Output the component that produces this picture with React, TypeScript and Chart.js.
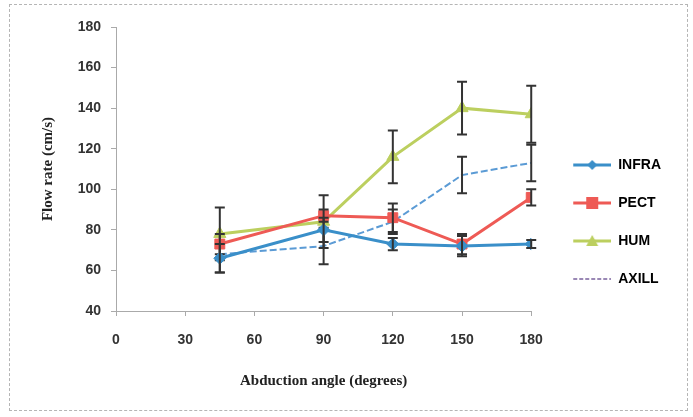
import React, { useEffect, useRef } from 'react';
import { Chart, registerables } from 'chart.js';

Chart.register(...registerables);

const angles = [45, 90, 120, 150, 180];
const seriesNames = ['INFRA', 'PECT', 'HUM', 'AXILL'];
const infra = [66, 80, 73, 72, 73];
const infraErr = [7, 6, 3, 5, 2];
const pect = [73, 87, 86, 73, 96];
const pectErr = [5, 3, 7, 5, 4];
const hum = [78, 84, 116, 140, 137];
const humErr = [13, 13, 13, 13, 14];
const axill = [68, 72, 84, 107, 113];
const axillErr = [9, 9, 6, 9, 9];
const xTickValues = [0, 30, 60, 90, 120, 150, 180];
const yTickValues = [40, 60, 80, 100, 120, 140, 160, 180];

const TICK_FONT = { family: "'Liberation Sans Narrow', 'Liberation Sans', Arial, sans-serif", size: 14, weight: 'bold' as const };
const TITLE_FONT = { family: "'Liberation Serif', 'Times New Roman', serif", size: 15, weight: 'bold' as const };

function makeIcon(color: string, marker: string, dash: number[] | null) {
  const c = document.createElement('canvas');
  c.width = 56;
  c.height = 16;
  const g = c.getContext('2d')!;
  g.strokeStyle = color;
  g.fillStyle = color;
  g.lineWidth = dash ? 2 : 3;
  if (dash) g.setLineDash(dash);
  g.beginPath();
  g.moveTo(18, 8);
  g.lineTo(56, 8);
  g.stroke();
  g.setLineDash([]);
  const cx = 37, cy = 8;
  g.beginPath();
  if (marker === 'diamond') {
    g.moveTo(cx, cy - 5); g.lineTo(cx + 5, cy); g.lineTo(cx, cy + 5); g.lineTo(cx - 5, cy); g.closePath(); g.fill();
  } else if (marker === 'square') {
    g.rect(cx - 6, cy - 6, 12, 12); g.fill();
  } else if (marker === 'triangle') {
    g.moveTo(cx, cy - 6); g.lineTo(cx + 6, cy + 5); g.lineTo(cx - 6, cy + 5); g.closePath(); g.fill();
  }
  return c;
}

const errorsByDataset = [infraErr, pectErr, humErr, axillErr];

const errorBarPlugin = {
  id: 'errorBars',
  afterDatasetDraw(chart: any, args: any) {
    const { ctx, scales } = chart;
    const x = scales.x, y = scales.y;
    const ds = chart.data.datasets[args.index];
    const errs = errorsByDataset[args.index];
    ctx.save();
    ctx.strokeStyle = '#333333';
    ctx.lineWidth = 2;
    ds.data.forEach((pt: any, j: number) => {
      const px = x.getPixelForValue(pt.x);
      const top = y.getPixelForValue(pt.y + errs[j]);
      const bot = y.getPixelForValue(pt.y - errs[j]);
      ctx.beginPath();
      ctx.moveTo(px, top); ctx.lineTo(px, bot);
      ctx.moveTo(px - 5, top); ctx.lineTo(px + 5, top);
      ctx.moveTo(px - 5, bot); ctx.lineTo(px + 5, bot);
      ctx.stroke();
    });
    ctx.restore();
  },
};

export default function App() {
  const ref = useRef<HTMLCanvasElement | null>(null);
  useEffect(() => {
    if (!ref.current) return;
    const colors = ['#3a8fc9', '#ee5a55', '#bccf5f', '#5b9bd5'];
    const legendColors = ['#3a8fc9', '#ee5a55', '#bccf5f', '#9a88b5'];
    const icons = [
      makeIcon(legendColors[0], 'diamond', null),
      makeIcon(legendColors[1], 'square', null),
      makeIcon(legendColors[2], 'triangle', null),
      makeIcon(legendColors[3], 'none', [4, 2]),
    ];
    const values = [infra, pect, hum, axill];
    const styles = ['rectRot', 'rect', 'triangle', 'circle'];
    const radii = [6, 7, 7, 0];
    const datasets = seriesNames.map((name, i) => ({
      label: name,
      data: angles.map((a, j) => ({ x: a, y: values[i][j] })),
      borderColor: colors[i],
      backgroundColor: colors[i],
      pointBackgroundColor: colors[i],
      pointBorderColor: colors[i],
      pointStyle: styles[i],
      pointRadius: radii[i],
      pointBorderWidth: 1,
      borderWidth: i === 3 ? 2 : 3,
      borderDash: i === 3 ? [7, 3] : [],
      tension: 0,
      fill: false,
    }));
    const chart = new Chart(ref.current, {
      type: 'line',
      data: { datasets },
      plugins: [errorBarPlugin],
      options: {
        animation: false,
        responsive: false,
        devicePixelRatio: 1,
        layout: { padding: { top: 27, right: 22, bottom: 0, left: 0 } },
        plugins: {
          tooltip: { enabled: false },
          legend: {
            position: 'right',
            align: 'center',
            labels: {
              usePointStyle: true,
              pointStyleWidth: 56,
              padding: 24,
              color: '#333333',
              font: { family: "'Liberation Sans', Arial, sans-serif", size: 14, weight: 'bold' },
              generateLabels: () =>
                seriesNames.map((n, i) => ({
                  text: n,
                  pointStyle: icons[i],
                  fillStyle: legendColors[i],
                  strokeStyle: legendColors[i],
                  lineWidth: 0,
                  hidden: false,
                  datasetIndex: i,
                })),
            },
          },
        },
        scales: {
          x: {
            type: 'linear',
            min: 0,
            max: 180,
            afterFit: (s: any) => { s.height = 106; },
            afterBuildTicks: (s: any) => { s.ticks = xTickValues.map((v) => ({ value: v })); },
            ticks: { font: TICK_FONT, color: '#333333', padding: 16, maxRotation: 0 },
            grid: { drawOnChartArea: false, drawTicks: true, tickLength: 5, color: '#aaaaaa' },
            border: { color: '#aaaaaa', dash: [3, 2] },
            title: { display: true, text: 'Abduction angle (degrees)', font: TITLE_FONT, color: '#222222', padding: { top: 0, bottom: 27 } },
          },
          y: {
            type: 'linear',
            min: 40,
            max: 180,
            afterFit: (s: any) => { s.width = 116; },
            afterBuildTicks: (s: any) => { s.ticks = yTickValues.map((v) => ({ value: v })); },
            ticks: { font: TICK_FONT, color: '#333333', padding: 10 },
            grid: { drawOnChartArea: false, drawTicks: true, tickLength: 5, color: '#aaaaaa' },
            border: { color: '#aaaaaa', dash: [3, 2] },
            title: { display: true, text: 'Flow rate (cm/s)', font: TITLE_FONT, color: '#222222', padding: { top: 39, bottom: 0 } },
          },
        },
      } as any,
    });
    return () => chart.destroy();
  }, []);
  return (
    <div style={{ position: 'fixed', left: 0, top: 0, width: 693, height: 417, background: '#ffffff' }}>
      <canvas ref={ref} width={693} height={417} style={{ position: 'absolute', left: 0, top: 0, width: 693, height: 417 }} />
      <div style={{ position: 'absolute', left: 9, top: 4, width: 677, height: 405, border: '1px dashed #b5b5b5', pointerEvents: 'none' }} />
    </div>
  );
}
